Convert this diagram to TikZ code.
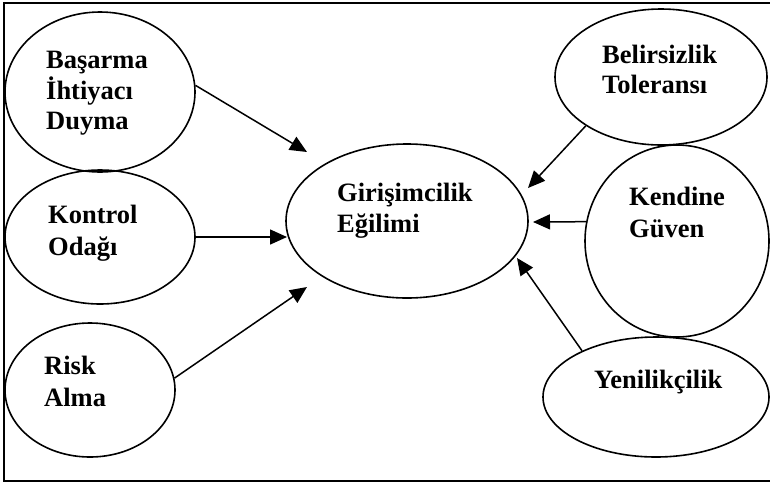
\documentclass[tikz,border=0pt]{standalone}
\usepackage{fontspec}
\setmainfont{Liberation Serif}
\usetikzlibrary{shapes.geometric,arrows.meta}
\begin{document}
\begin{tikzpicture}[x=1pt,y=-1pt,
  oval/.style={draw,ellipse,line width=1.6pt,inner sep=0pt},
  lbl/.style={anchor=base west,inner sep=0pt,font=\fontsize{26.5}{31}\selectfont\bfseries},
  arr/.style={line width=1.5pt,-{Triangle[length=17pt,width=15pt]}}]
\useasboundingbox (0,0) rectangle (770,483);
\draw[line width=2pt] (770,3) -- (4,3) -- (4,481) -- (770,481);
% ellipses
\node[oval,minimum width=190pt,minimum height=160pt] (b) at (100,92) {};
\node[oval,minimum width=190pt,minimum height=134pt] (k) at (100,237) {};
\node[oval,minimum width=170pt,minimum height=134pt] (r) at (90,390) {};
\node[oval,minimum width=242pt,minimum height=154pt] (g) at (407,221) {};
\node[oval,minimum width=212pt,minimum height=136pt] (bt) at (661,77) {};
\node[oval,minimum width=184pt,minimum height=192pt] (kg) at (677,241) {};
\node[oval,minimum width=226pt,minimum height=120pt] (y) at (656,397) {};
% texts
\node[lbl] (b1) at (46,68) {Başarma};
\node[lbl] (b2) at (46,99) {İhtiyacı};
\node[lbl] (b3) at (46,129) {Duyma};
\node[lbl] (k1) at (48,223) {Kontrol};
\node[lbl] (k2) at (48,255) {Odağı};
\node[lbl] (r1) at (44,374) {Risk};
\node[lbl] (r2) at (44,406) {Alma};
\node[lbl] (g1) at (337,201) {Girişimcilik};
\node[lbl] (g2) at (337,232) {Eğilimi};
\node[lbl] (bt1) at (602,63) {Belirsizlik};
\node[lbl] (bt2) at (602,93) {Toleransı};
\node[lbl] (kg1) at (629,205) {Kendine};
\node[lbl] (kg2) at (629,237) {Güven};
\node[lbl] (y1) at (594,388) {Yenilikçilik};
% arrow tips
\coordinate (t1) at (307,152);
\coordinate (t2) at (287,237);
\coordinate (t3) at (307,287);
\coordinate (t4) at (528,188);
\coordinate (t5) at (533,222);
\coordinate (t6) at (517,258);
\draw[arr] (b.4) -- (t1);
\draw[arr] (k.0) -- (t2);
\draw[arr] (r.8) -- (t3);
\draw[arr] (bt.213) -- (t4);
\draw[arr] (kg.168) -- (t5);
\draw[arr] (y.148) -- (t6);
\end{tikzpicture}
\end{document}
